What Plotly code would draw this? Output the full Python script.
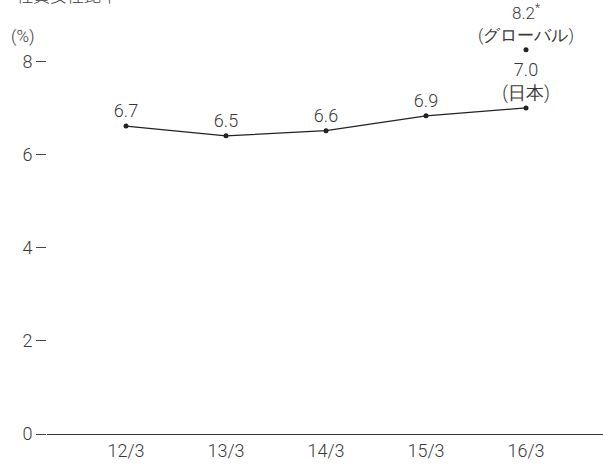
import plotly.graph_objects as go

categories = ["12/3", "13/3", "14/3", "15/3", "16/3"]
japan_values = [6.62, 6.41, 6.52, 6.84, 7.01]
japan_labels = ["6.7", "6.5", "6.6", "6.9", "7.0<br>(日本)"]
global_category = "16/3"
global_value = 8.26
global_label = "8.2<sup>*</sup><br>(グローバル)"
y_ticks = [0, 2, 4, 6, 8]

xi = list(range(len(categories)))
gx = categories.index(global_category)

FONT = "Roboto"
TXT = "#3a3a3a"

fig = go.Figure()
fig.add_trace(go.Scatter(
    x=xi, y=japan_values, mode="lines+markers+text",
    line=dict(color="#222222", width=1.3),
    marker=dict(color="#222222", size=5),
    text=japan_labels, textposition="top center",
    textfont=dict(family=FONT, size=18, color=TXT, weight=300),
    cliponaxis=False, hoverinfo="skip",
))
fig.add_trace(go.Scatter(
    x=[gx], y=[global_value], mode="markers+text",
    marker=dict(color="#222222", size=5),
    text=[global_label], textposition="top center",
    textfont=dict(family=FONT, size=17, color=TXT, weight=300),
    cliponaxis=False, hoverinfo="skip",
))

fig.update_layout(
    width=603, height=465,
    margin=dict(l=47, r=0, t=0, b=31),
    plot_bgcolor="white", paper_bgcolor="white",
    showlegend=False,
    font=dict(family=FONT, color=TXT),
    xaxis=dict(
        range=[-0.79, 4.77], tickmode="array", tickvals=xi, ticktext=categories,
        showgrid=False, zeroline=False, showline=True, linecolor="#333333", linewidth=1.2,
        ticks="", tickfont=dict(family=FONT, size=18, color=TXT, weight=300),
    ),
    yaxis=dict(
        range=[0, 9.33], tickmode="array", tickvals=y_ticks,
        ticktext=[str(v) for v in y_ticks],
        showgrid=False, zeroline=False, showline=False,
        ticks="outside", ticklen=10, tickcolor="#444444", tickwidth=1,
        tickfont=dict(family=FONT, size=18, color=TXT, weight=300),
    ),
    annotations=[
        dict(text="(%)", xref="paper", yref="paper", x=-0.068, y=1 - 36 / 434,
             xanchor="left", yanchor="middle", showarrow=False,
             font=dict(family=FONT, size=17, color=TXT, weight=300)),
        dict(text="社員女性比率", xref="paper", yref="paper", x=-0.06, y=1 - 9 / 434,
             xanchor="left", yanchor="bottom", showarrow=False,
             font=dict(family="Noto Sans CJK JP", size=17, color=TXT, weight=300)),
    ],
)

fig.write_html("out.html")
